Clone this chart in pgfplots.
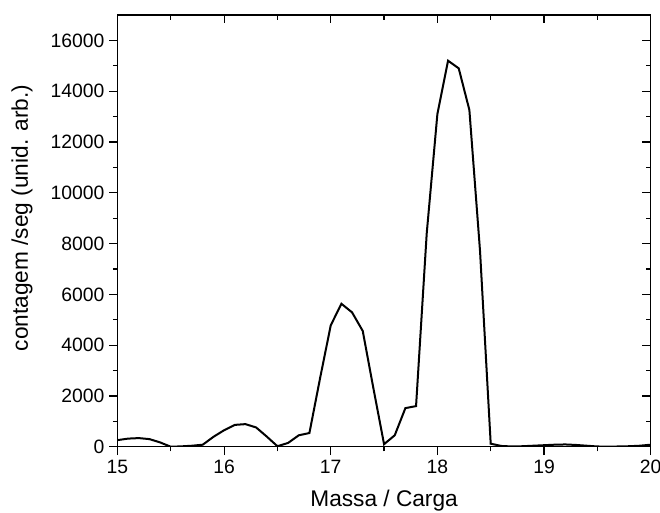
\documentclass[border=0pt]{standalone}
\usepackage{fontspec}
\setmainfont{Liberation Sans}
\usepackage{pgfplots}
\pgfplotsset{compat=1.18}
\usetikzlibrary{calc}
\begin{document}
\begin{tikzpicture}
\pgfplotsset{
  common/.style={
    scale only axis,
    width=399.9pt, height=323.8pt,
    xmin=15, xmax=20, ymin=0, ymax=17000,
    xtick={15,16,17,18,19,20},
    minor xtick={15.5,16.5,17.5,18.5,19.5},
    ytick={0,2000,4000,6000,8000,10000,12000,14000,16000},
    minor ytick={1000,3000,5000,7000,9000,11000,13000,15000},
    major tick length=6.2pt, minor tick length=3.4pt,
    every tick/.style={black, line width=0.9pt},
    axis line style={black, line width=0.9pt},
    scaled y ticks=false,
  }
}
\begin{axis}[common,
  name=ax,
  tick align=outside,
  xtick pos=left, ytick pos=left,
  /pgf/number format/assume math mode=true,
  /pgf/number format/1000 sep={},
  tick label style={font=\fontsize{14.5}{16}\selectfont},
  xlabel={Massa / Carga}, ylabel={contagem /seg (unid. arb.)},
  xlabel style={font=\fontsize{17}{20}\selectfont, at={(axis description cs:0.5,-0.125)}, anchor=center},
  ylabel style={font=\fontsize{17}{20}\selectfont, at={(axis description cs:-0.179,0.53)}, anchor=center},
]
\addplot[black, line width=1.5pt, line join=miter] coordinates {
(15.0,260) (15.1,320) (15.2,340) (15.3,300) (15.4,170) (15.5,0)
(15.6,15) (15.7,40) (15.8,80) (15.9,390) (16.0,650) (16.1,860)
(16.2,890) (16.3,760) (16.4,400) (16.5,20) (16.6,150) (16.7,450)
(16.8,540) (16.9,2700) (17.0,4780) (17.1,5630) (17.2,5290) (17.3,4560)
(17.4,2300) (17.5,100) (17.6,450) (17.7,1520) (17.8,1600) (17.9,8400)
(18.0,13100) (18.1,15200) (18.2,14900) (18.3,13260) (18.4,7700) (18.5,120)
(18.6,30) (18.7,10) (18.8,20) (18.9,40) (19.0,60) (19.1,80)
(19.2,90) (19.3,70) (19.4,40) (19.5,10) (19.6,5) (19.7,10)
(19.8,20) (19.9,40) (20.0,80)
};
\end{axis}
\begin{axis}[common,
  tick align=inside,
  xtick pos=right, ytick pos=right,
  xticklabels={}, yticklabels={},
]
\end{axis}
\pgfresetboundingbox
\path[use as bounding box] ($(ax.south west)+(-88.1pt,-49.7pt)$) rectangle ($(ax.north east)+(7pt,11.25pt)$);
\end{tikzpicture}
\end{document}
